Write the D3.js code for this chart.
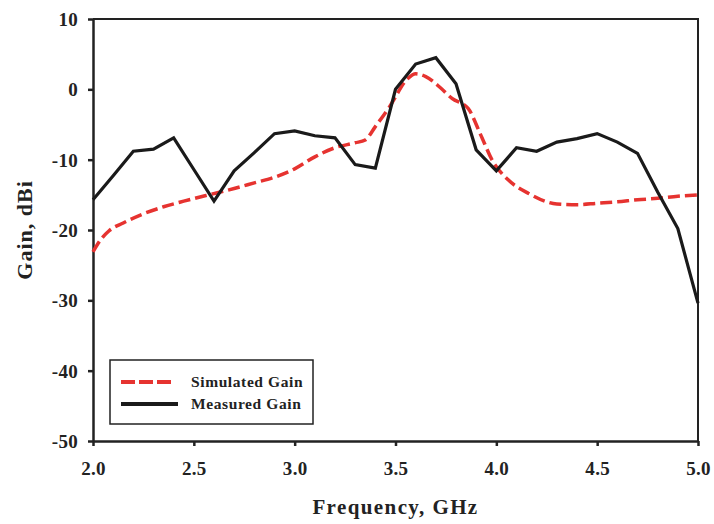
<!DOCTYPE html>
<html>
<head>
<meta charset="utf-8">
<script src="https://cdn.jsdelivr.net/npm/d3@7"></script>
<style>
  body { margin: 0; background: #fff; }
  text { font-family: "Liberation Serif", "Times New Roman", serif; font-weight: bold; fill: #222; }
</style>
</head>
<body>
<svg class="gain-chart" width="714" height="524"></svg>
<script>
// data
var measuredFreq = [2.0, 2.1, 2.2, 2.3, 2.4, 2.5, 2.6, 2.7, 2.8, 2.9, 3.0, 3.1, 3.2, 3.3, 3.4, 3.5, 3.6, 3.7, 3.8, 3.9, 4.0, 4.1, 4.2, 4.3, 4.4, 4.5, 4.6, 4.7, 4.8, 4.9, 5.0];
var measuredGain = [-15.7, -12.3, -8.8, -8.5, -6.9, -11.4, -15.9, -11.6, -9.0, -6.3, -5.9, -6.6, -6.9, -10.7, -11.2, 0.0, 3.6, 4.5, 0.8, -8.6, -11.6, -8.3, -8.8, -7.5, -7.0, -6.3, -7.5, -9.1, -14.6, -19.8, -30.4];

var simFreq = [2.0, 2.04, 2.08, 2.15, 2.25, 2.35, 2.45, 2.56, 2.7, 2.8, 2.9, 3.0, 3.1, 3.2, 3.3, 3.35, 3.4, 3.47, 3.56, 3.6, 3.65, 3.72, 3.78, 3.86, 3.92, 3.98, 4.06, 4.16, 4.3, 4.4, 4.5, 4.6, 4.7, 4.8, 4.9, 5.0];
var simGain = [-23.1, -21.3, -20.1, -19.0, -17.7, -16.7, -15.9, -15.1, -14.1, -13.3, -12.5, -11.3, -9.6, -8.3, -7.6, -7.2, -5.3, -2.5, 1.5, 2.2, 1.8, 0.3, -1.3, -2.7, -6.3, -10.1, -12.9, -14.8, -16.3, -16.4, -16.2, -16.0, -15.7, -15.5, -15.2, -15.0];

var xTicks = [2.0, 2.5, 3.0, 3.5, 4.0, 4.5, 5.0];
var yTicks = [10, 0, -10, -20, -30, -40, -50];

var legendLabels = ['Simulated Gain', 'Measured Gain'];

var svg = d3.select('svg.gain-chart');
var padding = {t: 19, r: 16, b: 83, l: 93};
var chartWidth = 714 - padding.l - padding.r;
var chartHeight = 524 - padding.t - padding.b;

var xScale = d3.scaleLinear().domain([2, 5]).range([0, chartWidth]);
var yScale = d3.scaleLinear().domain([-50, 10]).range([chartHeight, 0]);

var chartG = svg.append('g')
  .attr('transform', 'translate(' + [padding.l, padding.t] + ')');

// frame (top and right)
chartG.append('path')
  .attr('d', 'M0,0H' + chartWidth + 'V' + chartHeight)
  .attr('fill', 'none')
  .attr('stroke', '#222')
  .attr('stroke-width', 2);

// axes
var xAxis = chartG.append('g')
  .attr('transform', 'translate(0,' + chartHeight + ')')
  .call(d3.axisBottom(xScale).tickValues(xTicks).tickFormat(d3.format('.1f')).tickSize(5).tickPadding(16).tickSizeOuter(0));
var yAxis = chartG.append('g')
  .call(d3.axisLeft(yScale).tickValues(yTicks).tickFormat(function(d) { return String(d); }).tickSize(5).tickPadding(10).tickSizeOuter(0));

[xAxis, yAxis].forEach(function(ax) {
  ax.select('.domain').attr('stroke', '#222').attr('stroke-width', 2.5);
  ax.selectAll('.tick line').attr('stroke', '#222').attr('stroke-width', 2.5);
  ax.selectAll('.tick text')
    .attr('fill', '#222')
    .style('font-family', '"Liberation Serif", serif')
    .style('font-weight', 'bold')
    .style('font-size', '19px')
    .style('letter-spacing', '0.3px');
});
yAxis.selectAll('.tick text').attr('dy', '0.34em');

// lines
var simLine = d3.line()
  .x(function(d, i) { return xScale(simFreq[i]); })
  .y(function(d) { return yScale(d); })
  .curve(d3.curveMonotoneX);

var measLine = d3.line()
  .x(function(d, i) { return xScale(measuredFreq[i]); })
  .y(function(d) { return yScale(d); });

chartG.append('path')
  .attr('d', simLine(simGain))
  .attr('fill', 'none')
  .attr('stroke', '#e63330')
  .attr('stroke-width', 3.5)
  .attr('stroke-dasharray', '12,5');

chartG.append('path')
  .attr('d', measLine(measuredGain))
  .attr('fill', 'none')
  .attr('stroke', '#1a1a1a')
  .attr('stroke-width', 3.2)
  .attr('stroke-linejoin', 'miter');

// axis titles
svg.append('text')
  .attr('x', padding.l + chartWidth / 2)
  .attr('y', 514)
  .attr('text-anchor', 'middle')
  .style('font-size', '21px')
  .style('letter-spacing', '1.4px')
  .text('Frequency, GHz');

svg.append('text')
  .attr('transform', 'translate(32,' + (padding.t + chartHeight / 2) + ') rotate(-90)')
  .attr('text-anchor', 'middle')
  .style('font-size', '22px')
  .style('letter-spacing', '1px')
  .text('Gain, dBi');

// legend
var legendG = svg.append('g').attr('transform', 'translate(110,360)');
legendG.append('rect')
  .attr('width', 203).attr('height', 64)
  .attr('fill', '#fff').attr('stroke', '#222').attr('stroke-width', 1.5);

var legendStyles = [
  {color: '#e63330', dash: '14,4', x2: 62, width: 4},
  {color: '#1a1a1a', dash: null, x2: 68, width: 4}
];
legendLabels.forEach(function(lab, i) {
  var y = 22 + i * 22;
  legendG.append('line')
    .attr('x1', 11).attr('x2', legendStyles[i].x2)
    .attr('y1', y).attr('y2', y)
    .attr('stroke', legendStyles[i].color)
    .attr('stroke-width', legendStyles[i].width)
    .attr('stroke-dasharray', legendStyles[i].dash);
  legendG.append('text')
    .attr('x', 81).attr('y', y + 5)
    .style('font-size', '15.5px')
    .style('letter-spacing', '0.6px')
    .text(lab);
});
</script>
</body>
</html>
